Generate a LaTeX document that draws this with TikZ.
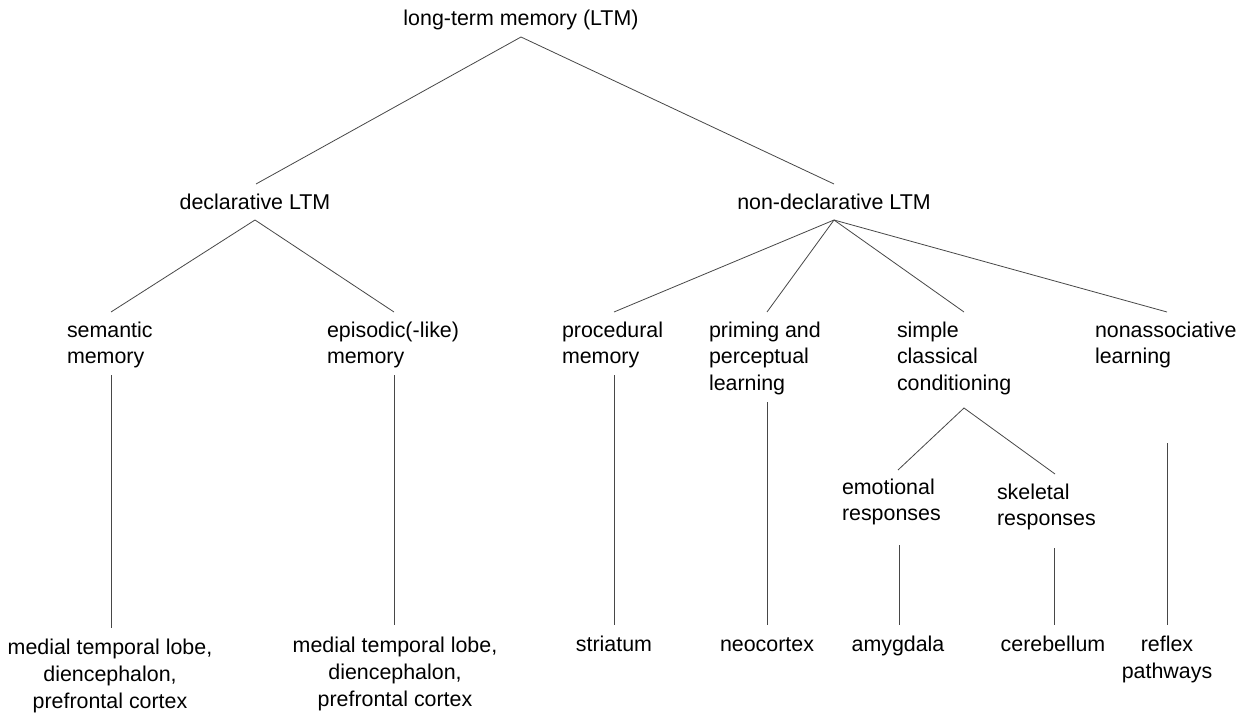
\documentclass[tikz,border=0pt]{standalone}
\usepackage{fontspec}
\setmainfont{Liberation Sans}
\newcommand\treefont{\fontsize{21.4}{26.7}\selectfont}
\tikzset{
  lbl/.style={inner sep=0pt, outer sep=0pt, font=\treefont, align=left, anchor=north west},
  ctr/.style={inner sep=0pt, outer sep=0pt, font=\treefont, align=center, anchor=north},
  edge/.style={draw=black!72, line width=0.8pt}
}
\begin{document}
\begin{tikzpicture}[x=1pt, y=-1pt]
\useasboundingbox (0,0) rectangle (1245,714);
\fill[white] (0,0) rectangle (1245,714);

% labels (north = first baseline - strut height)
\node[ctr] (ltm)     at (521,7)   {\strut long-term memory (LTM)};
\node[ctr] (decl)    at (255,191) {\strut declarative LTM};
\node[ctr] (nondecl) at (834,191) {\strut non-declarative LTM};

\node[lbl] (sem)   at (67,318.5)   {\strut semantic\\\strut memory};
\node[lbl] (epi)   at (327,318.5)  {\strut episodic(-like)\\\strut memory};
\node[lbl] (proc)  at (562,318.5)  {\strut procedural\\\strut memory};
\node[lbl] (prim)  at (709,318.5)  {\strut priming and\\\strut perceptual\\\strut learning};
\node[lbl] (simp)  at (897,318.5)  {\strut simple\\\strut classical\\\strut conditioning};
\node[lbl] (nonas) at (1095,318.5) {\strut nonassociative\\\strut learning};

\node[lbl] (emo)  at (842,475.5) {\strut emotional\\\strut responses};
\node[lbl] (skel) at (997,480.5) {\strut skeletal\\\strut responses};

\node[ctr] (mtla) at (110,636) {\strut medial temporal lobe,\\\strut diencephalon,\\\strut prefrontal cortex};
\node[ctr] (mtlb) at (395,634) {\strut medial temporal lobe,\\\strut diencephalon,\\\strut prefrontal cortex};
\node[ctr] (str) at (614,633)  {\strut striatum};
\node[ctr] (neo) at (767,633)  {\strut neocortex};
\node[ctr] (amy) at (898,633)  {\strut amygdala};
\node[ctr] (cer) at (1053,633) {\strut cerebellum};
\node[ctr] (rfx) at (1167,633) {\strut reflex\\\strut pathways};

% connector end points
\coordinate (ltmB) at (521,37);
\coordinate (declT) at (256,184);
\coordinate (nondeclT) at (834,184);
\coordinate (declB) at (255,220);
\coordinate (semT) at (111,312);
\coordinate (epiT) at (394,312);
\coordinate (nondeclB) at (834,220);
\coordinate (procT) at (614,312);
\coordinate (primT) at (767,312);
\coordinate (simpT) at (964,312);
\coordinate (nonasT) at (1167,312);
\coordinate (semB) at (111,375);
\coordinate (mtlaT) at (111,628);
\coordinate (epiB) at (394,375);
\coordinate (mtlbT) at (394,625);
\coordinate (procB) at (614,375);
\coordinate (strT) at (614,625);
\coordinate (primB) at (767,402);
\coordinate (neoT) at (767,625);
\coordinate (simpB) at (964,408);
\coordinate (emoT) at (898,470);
\coordinate (skelT) at (1055,474);
\coordinate (emoB) at (899,545);
\coordinate (amyT) at (899,625);
\coordinate (skelB) at (1054,548);
\coordinate (cerT) at (1054,625);
\coordinate (nonasB) at (1167,443);
\coordinate (rfxT) at (1167,625);

% tree edges
\draw[edge] (declT) -- (ltmB) -- (nondeclT);
\draw[edge] (semT) -- (declB) -- (epiT);
\draw[edge] (nondeclB) -- (procT);
\draw[edge] (nondeclB) -- (primT);
\draw[edge] (nondeclB) -- (simpT);
\draw[edge] (nondeclB) -- (nonasT);
\draw[edge] (emoT) -- (simpB) -- (skelT);
\draw[edge] (semB) -- (mtlaT);
\draw[edge] (epiB) -- (mtlbT);
\draw[edge] (procB) -- (strT);
\draw[edge] (primB) -- (neoT);
\draw[edge] (emoB) -- (amyT);
\draw[edge] (skelB) -- (cerT);
\draw[edge] (nonasB) -- (rfxT);
\end{tikzpicture}
\end{document}
